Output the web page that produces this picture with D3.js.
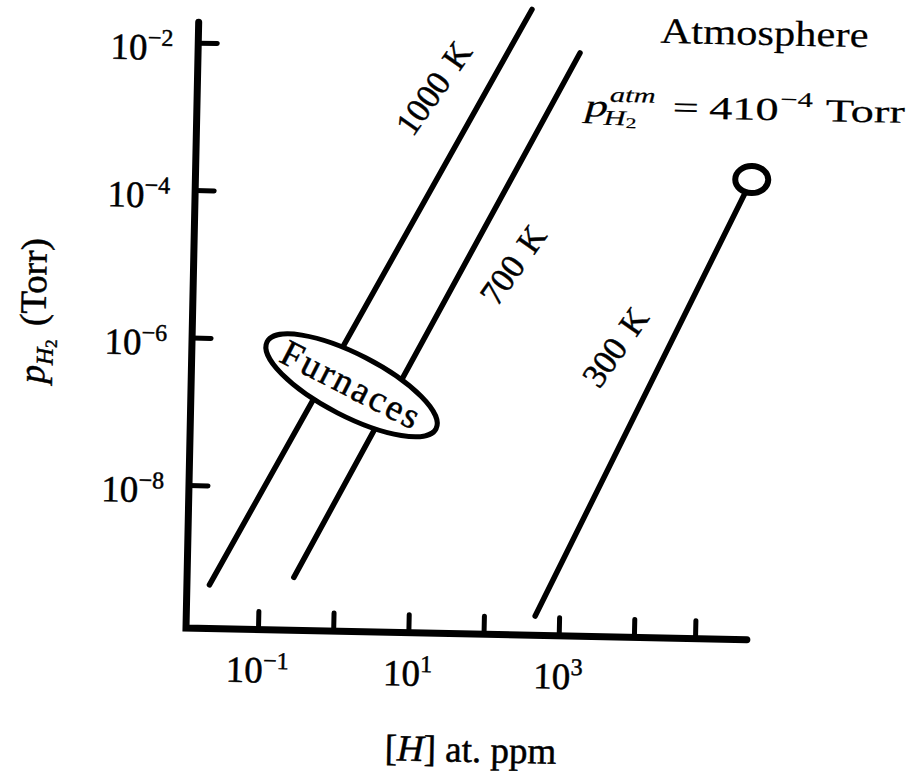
<!DOCTYPE html>
<html>
<head>
<meta charset="utf-8">
<script src="https://cdn.jsdelivr.net/npm/d3@7"></script>
<style>
  body { margin: 0; background: #fff; }
  text { font-family: "Liberation Serif", "Times New Roman", serif; fill: #000; stroke: #000; stroke-width: 0.5px; }
</style>
</head>
<body>
<svg id="chart" width="918" height="780"></svg>
<script>
// values
const series = ['1000 K', '700 K', '300 K']
const hStart = [0.022, 0.29, 480]          // [H] at. ppm, lower end of each line
const hEnd = [295, 1320, 2.75e5]
const pStart = [4.5e-10, 6.0e-10, 2.1e-10] // p_H2 in Torr
const pEnd = [3.5e-2, 9.3e-3, 2.0e-4]
const atmH = 2.75e5, atmP = 2.0e-4         // atmosphere point (end of 300 K)
const furnaceH = 1.5, furnaceP = 2.5e-7    // centre of the "Furnaces" region
const xTicks = [0.1, 1, 10, 100, 1e3, 1e4, 6.5e4]
const xLabelVals = [0.1, 10, 1e3]
const xLabelExp = ['−1', '1', '3']
const yTicks = [1e-2, 1e-4, 1e-6, 1e-8]
const yLabelExp = ['−2', '−4', '−6', '−8']

const svg = d3.select('#chart')
// the scan is turned a little clockwise, so the whole plot is too
const g = svg.append('g').attr('transform', 'translate(186,628) rotate(1.2)')

const x = d3.scaleLog().domain([0.1, 1e4]).range([72, 448])
const y = d3.scaleLog().domain([1e-8, 1e-2]).range([-143, -585.5])

// ticks
g.append('g')
  .call(d3.axisBottom(x).tickValues(xTicks).tickSize(-18).tickFormat(''))
  .call(a => a.select('.domain').remove())
  .selectAll('line').attr('stroke', '#000').attr('stroke-width', 5).attr('stroke-linecap', 'round')
g.append('g')
  .call(d3.axisLeft(y).tickValues(yTicks).tickSize(-19).tickFormat(''))
  .call(a => a.select('.domain').remove())
  .selectAll('line').attr('stroke', '#000').attr('stroke-width', 5).attr('stroke-linecap', 'round')

// axis lines
g.append('path').attr('d', 'M0,-606L0,0L561,0')
  .attr('fill', 'none').attr('stroke', '#000').attr('stroke-width', 7)
  .attr('stroke-linecap', 'round').attr('stroke-linejoin', 'miter')

// temperature lines
g.append('g').selectAll('line').data(series).enter().append('line')
  .attr('x1', (d, i) => x(hStart[i])).attr('y1', (d, i) => y(pStart[i]))
  .attr('x2', (d, i) => x(hEnd[i])).attr('y2', (d, i) => y(pEnd[i]))
  .attr('stroke', '#000').attr('stroke-width', 5.5).attr('stroke-linecap', 'round')

// line labels
const labelPos = [[236, -545], [319, -370], [423, -290]]
g.append('g').selectAll('text').data(series).enter().append('text')
  .attr('transform', (d, i) => 'translate(' + labelPos[i][0] + ',' + labelPos[i][1] + ') rotate(-56)')
  .attr('text-anchor', 'middle').attr('dy', '0.35em').attr('font-size', 34).attr('word-spacing', 4)
  .text(d => d)

// furnaces
const fur = g.append('g').attr('transform', 'translate(' + x(furnaceH) + ',' + y(furnaceP) + ') rotate(26)')
fur.append('ellipse').attr('rx', 95).attr('ry', 31)
  .attr('fill', '#fff').attr('stroke', '#000').attr('stroke-width', 5)
fur.append('text').attr('x', 0).attr('y', 12).attr('text-anchor', 'middle')
  .attr('font-size', 37).attr('letter-spacing', 2.5).text('Furnaces')

// atmosphere point
g.append('ellipse').attr('cx', x(atmH)).attr('cy', y(atmP)).attr('rx', 16.5).attr('ry', 13.5)
  .attr('fill', '#fff').attr('stroke', '#000').attr('stroke-width', 6)

// tick labels
xLabelVals.forEach((v, i) => {
  const t = g.append('text').attr('x', x(v)).attr('y', 53).attr('text-anchor', 'middle').attr('font-size', 37)
  t.append('tspan').text('10')
  t.append('tspan').attr('font-size', 24).attr('dy', -14).text(xLabelExp[i])
})
yTicks.forEach((v, i) => {
  const t = g.append('text').attr('x', -25).attr('y', y(v) + 18).attr('text-anchor', 'end').attr('font-size', 37)
  t.append('tspan').text('10')
  t.append('tspan').attr('font-size', 24).attr('dy', -14).text(yLabelExp[i])
})

// axis titles
const xt = g.append('text').attr('x', 287).attr('y', 128).attr('text-anchor', 'middle').attr('font-size', 37)
xt.append('tspan').text('[')
xt.append('tspan').attr('font-style', 'italic').text('H')
xt.append('tspan').text('] at.  ppm')

const yt = g.append('text').attr('transform', 'translate(-147,-314) rotate(-90)')
  .attr('text-anchor', 'middle').attr('font-size', 37)
yt.append('tspan').attr('font-style', 'italic').text('p')
yt.append('tspan').attr('font-style', 'italic').attr('font-size', 24).attr('dy', 8).text('H')
yt.append('tspan').attr('font-size', 17).attr('dy', 4).text('2')
yt.append('tspan').attr('dy', -12).attr('dx', 13).text('(Torr)')

// atmosphere annotation
g.append('text').attr('x', 566).attr('y', -595).attr('text-anchor', 'middle')
  .attr('font-size', 36).attr('textLength', 208).attr('lengthAdjust', 'spacingAndGlyphs')
  .style('stroke-width', '0.2px').text('Atmosphere')

const eq = g.append('g')
function piece (txt, x0, y0, size, italic) {
  const t = eq.append('text').attr('x', x0).attr('y', y0).attr('font-size', size)
    .attr('font-style', italic ? 'italic' : null).style('stroke-width', '0.2px').text(txt)
  return x0 + t.node().getComputedTextLength()
}
let cx = piece('p', 0, 0, 32, true)
const a1 = piece('atm', cx + 1, -15, 21, true)
const h1 = piece('H', cx - 3, 8, 21, true)
const h2 = piece('2', h1, 11, 15, false)
cx = Math.max(a1, h2) + 12
cx = piece('=', cx, 0, 32) + 7
cx = piece('410', cx, 0, 32)
cx = piece('−4', cx + 1, -14, 21) + 9
cx = piece('Torr', cx, 0, 32)
eq.attr('transform', 'translate(388,-520) scale(' + (320 / cx) + ',1)')
</script>
</body>
</html>
